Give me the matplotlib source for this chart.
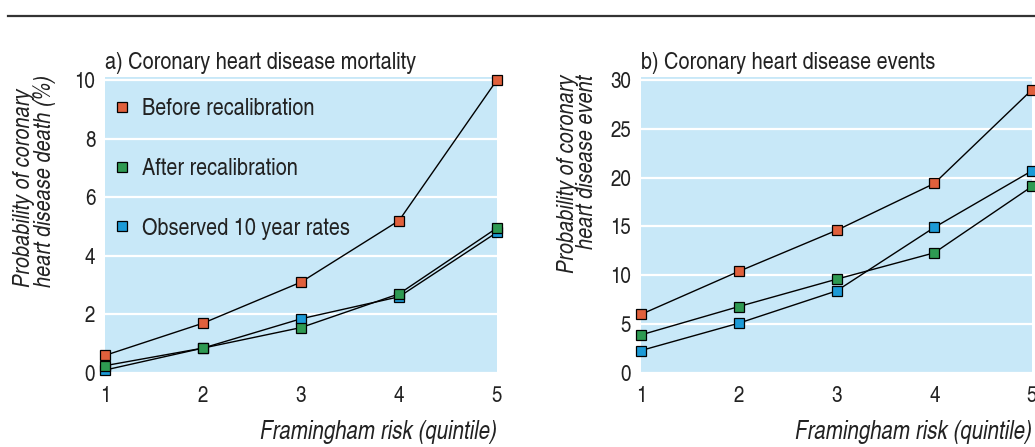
import matplotlib
matplotlib.use("Agg")
import matplotlib.pyplot as plt
from matplotlib.lines import Line2D

# quintiles of Framingham risk
quintiles = [1, 2, 3, 4, 5]

# a) coronary heart disease mortality (%)
mort_before = [0.6, 1.7, 3.1, 5.2, 10.0]
mort_after = [0.25, 0.85, 1.55, 2.7, 4.95]
mort_observed = [0.1, 0.85, 1.85, 2.6, 4.8]

# b) coronary heart disease events (%)
events_before = [6.0, 10.4, 14.6, 19.4, 29.0]
events_after = [3.9, 6.8, 9.6, 12.3, 19.1]
events_observed = [2.3, 5.1, 8.4, 14.9, 20.7]

series_labels = ["Before recalibration", "After recalibration", "Observed 10 year rates"]
series_colors = ["#E0603C", "#2E9A52", "#1C9AD6"]

plt.rcParams['font.family'] = ['TeX Gyre Heros Cn', 'DejaVu Sans']

BG = "#C8E8F8"
TXT = "#222222"

fig = plt.figure(figsize=(10.35, 4.47), dpi=100)

# rule across the top
fig.add_artist(Line2D([8 / 1035, 1.0], [1 - 16 / 447, 1 - 16 / 447],
                      color="#333333", lw=1.6, transform=fig.transFigure))

ax_bottom = 1 - 373 / 447
ax_height = (373 - 77) / 447
ax_a = fig.add_axes([105 / 1035, ax_bottom, 392 / 1035, ax_height])
ax_b = fig.add_axes([641 / 1035, ax_bottom, 391 / 1035, ax_height])


def style_axes(ax, ymax, yticks):
    ax.set_facecolor(BG)
    ax.set_xlim(1, 5)
    ax.set_ylim(0, ymax)
    ax.set_xticks(quintiles)
    ax.set_yticks(yticks)
    for s in ax.spines.values():
        s.set_visible(False)
    ax.tick_params(length=0, labelsize=16.5, colors=TXT)
    ax.tick_params(axis='y', pad=7)
    ax.tick_params(axis='x', pad=9)
    ax.yaxis.grid(True, color="white", lw=1.6)
    ax.set_axisbelow(True)


def draw_series(ax, ys_list):
    # observed first, so the model markers sit on top
    for i in [2, 1, 0]:
        ax.plot(quintiles, ys_list[i], color="black", lw=1.0,
                marker="s", markersize=7.5, markerfacecolor=series_colors[i],
                markeredgecolor="black", markeredgewidth=0.9,
                clip_on=False, zorder=3 + (2 - i))


def labels(ax, title, ylabel, ylab_x, ylab_align):
    ax.text(0.0, 1.026, title, transform=ax.transAxes,
            fontsize=17.5, ha="left", va="baseline", color=TXT)
    ax.text(ylab_x, 1.007, ylabel, transform=ax.transAxes, rotation=90,
            ha="center", va="top", multialignment=ylab_align, fontsize=17.5,
            style="italic", linespacing=0.86, color=TXT)
    ax.text(1.0, -0.2, "Framingham risk (quintile)", transform=ax.transAxes,
            ha="right", va="center", fontsize=18, style="italic", color=TXT)


# ---- panel a ----
style_axes(ax_a, 10.1, [0, 2, 4, 6, 8, 10])
draw_series(ax_a, [mort_before, mort_after, mort_observed])
labels(ax_a, "a) Coronary heart disease mortality",
       "Probability of coronary\nheart disease death (%)", -0.18, "left")

handles = [Line2D([], [], linestyle="none", marker="s", markersize=7.5,
                  markerfacecolor=c, markeredgecolor="black", markeredgewidth=0.9)
           for c in series_colors]
ax_a.legend(handles, series_labels, loc="upper left", bbox_to_anchor=(0.025, 0.928),
            frameon=False, fontsize=17.5, handlelength=0.6, handletextpad=0.5,
            labelspacing=1.55, borderaxespad=0.0, borderpad=0.0, labelcolor=TXT)

# ---- panel b ----
style_axes(ax_b, 30.3, [0, 5, 10, 15, 20, 25, 30])
draw_series(ax_b, [events_before, events_after, events_observed])
labels(ax_b, "b) Coronary heart disease events",
       "Probability of coronary\nheart disease event", -0.162, "right")

fig.savefig("out.png", dpi=100)
